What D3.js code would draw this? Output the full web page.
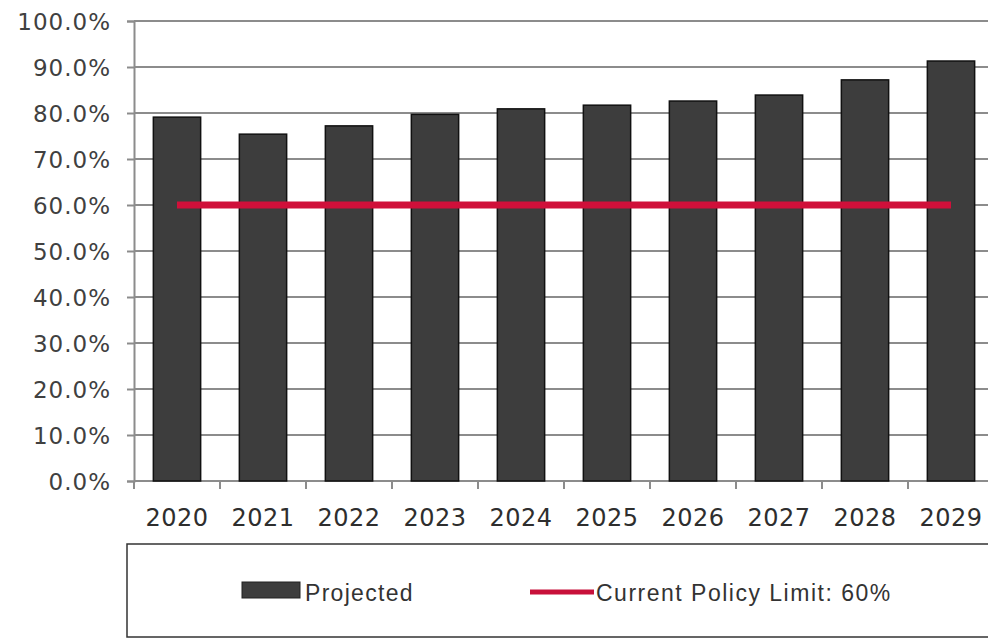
<!DOCTYPE html>
<html><head><meta charset="utf-8">
<script src="https://cdn.jsdelivr.net/npm/d3@7"></script>
<style>
html,body{margin:0;padding:0;background:#fff;overflow:hidden;}
svg{display:block;}
</style></head>
<body>
<svg id="c" width="988" height="639"></svg>
<script>
const years = ["2020","2021","2022","2023","2024","2025","2026","2027","2028","2029"];
const projected = [79.1, 75.4, 77.2, 79.7, 80.9, 81.7, 82.6, 83.9, 87.2, 91.3];
const policyLimit = [60,60,60,60,60,60,60,60,60,60];
const yTicks = [0,10,20,30,40,50,60,70,80,90,100];
const legendLabels = ["Projected", "Current Policy Limit: 60%"];

const svg = d3.select("#c");
const margin = {left:134, top:21, bottom:481, right:994};

const x = d3.scaleBand().domain(years).range([margin.left, margin.right]).paddingInner(0.45).paddingOuter(0.225);
const y = d3.scaleLinear().domain([0,100]).range([margin.bottom, margin.top]);

// grid
svg.append("g").selectAll("line").data(yTicks.filter(d=>d>0)).join("line")
  .attr("x1", margin.left).attr("x2", 988)
  .attr("y1", d=>y(d)).attr("y2", d=>y(d))
  .attr("stroke", "#8c8c8c").attr("stroke-width", 2);

// y axis
const yAxis = d3.axisLeft(y).tickValues(yTicks).tickSize(7).tickPadding(16)
  .tickFormat(d=>d3.format(".1f")(d)+"%");
const gy = svg.append("g").attr("transform", `translate(${margin.left},0)`).call(yAxis);
gy.select(".domain").attr("stroke", "#8c8c8c").attr("stroke-width", 2);
gy.selectAll(".tick line").attr("stroke", "#8c8c8c").attr("stroke-width", 2);
gy.selectAll("text").attr("fill", "#404040").style("font-family", "'DejaVu Sans', sans-serif")
  .style("font-size", "23px").style("letter-spacing", "1px").attr("dy", "0.36em");

// x axis (boundaries ticks)
const gx = svg.append("g").attr("transform", `translate(0,${margin.bottom})`);
gx.append("line").attr("x1", margin.left).attr("x2", 988).attr("y1", 0).attr("y2", 0)
  .attr("stroke", "#8c8c8c").attr("stroke-width", 2);
const step = x.step();
gx.selectAll("line.b").data(years).join("line").attr("class","b")
  .attr("x1", d=>x(d) - x.paddingOuter()*step).attr("x2", d=>x(d) - x.paddingOuter()*step)
  .attr("y1", 0).attr("y2", 8).attr("stroke", "#8c8c8c").attr("stroke-width", 2);
gx.selectAll("text").data(years).join("text")
  .attr("x", d=>x(d)+x.bandwidth()/2).attr("y", 45)
  .attr("text-anchor", "middle").attr("fill", "#2e2e2e")
  .style("font-family", "'DejaVu Sans', sans-serif").style("font-size", "24px").style("letter-spacing", "0.5px")
  .text(d=>d);

// bars
svg.append("g").selectAll("rect").data(years).join("rect")
  .attr("x", d=>x(d)).attr("width", x.bandwidth())
  .attr("y", (d,i)=>y(projected[i])).attr("height", (d,i)=>y(0)-y(projected[i]))
  .attr("fill", "#3d3d3d").attr("stroke", "#111").attr("stroke-width", 1.5);

// policy line
const line = d3.line().x((d,i)=>x(years[i])+x.bandwidth()/2).y(d=>y(d));
svg.append("path").datum(policyLimit).attr("d", line)
  .attr("fill","none").attr("stroke", "#d0103a").attr("stroke-width", 7);

// legend
const lg = svg.append("g");
lg.append("rect").attr("x", 127).attr("y", 544).attr("width", 900).attr("height", 93)
  .attr("fill", "none").attr("stroke", "#333").attr("stroke-width", 1.5);
lg.append("rect").attr("x", 242).attr("y", 582).attr("width", 58).attr("height", 16)
  .attr("fill", "#3d3d3d").attr("stroke", "#222").attr("stroke-width", 1);
lg.append("text").attr("x", 305).attr("y", 601).text(legendLabels[0])
  .attr("fill", "#333").style("font-family", "'Liberation Sans', Arial, sans-serif")
  .style("font-size", "23px").style("letter-spacing", "1.3px");
lg.append("line").attr("x1", 530).attr("x2", 594).attr("y1", 592).attr("y2", 592)
  .attr("stroke", "#c8103a").attr("stroke-width", 5);
lg.append("text").attr("x", 596).attr("y", 601).text(legendLabels[1])
  .attr("fill", "#333").style("font-family", "'Liberation Sans', Arial, sans-serif")
  .style("font-size", "23px").style("letter-spacing", "1.5px");
</script>
</body></html>
